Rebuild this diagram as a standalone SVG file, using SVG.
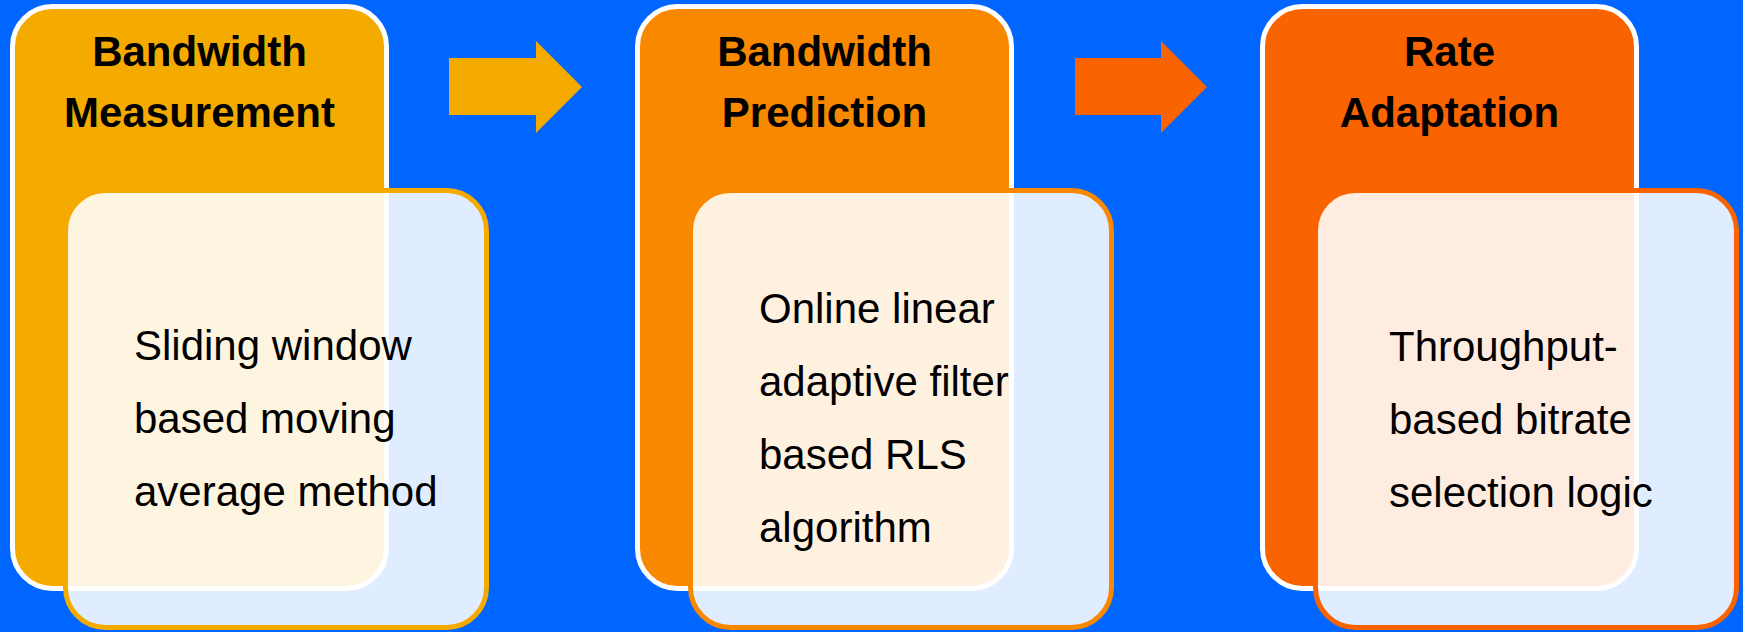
<svg xmlns="http://www.w3.org/2000/svg" width="1743" height="632" viewBox="0 0 1743 632">
<style>
.outer{stroke:#ffffff;stroke-width:5}
.inner{fill:#ffffff;fill-opacity:0.88;stroke-width:5}
.title{font-family:"Liberation Sans",Arial,sans-serif;font-weight:bold;font-size:42px;fill:#000;text-anchor:middle}
.body{font-family:"Liberation Sans",Arial,sans-serif;font-size:42px;fill:#000}
</style>
<rect x="0" y="0" width="1743" height="632" fill="#0066ff"/>
<g id="node-measurement">
<rect class="outer" x="12.5" y="6.5" width="374" height="582" rx="40" fill="#f5aa00"/>
<text class="title" x="199.5" y="66">Bandwidth</text>
<text class="title" x="199.5" y="127">Measurement</text>
<rect class="inner" x="65.5" y="190.5" width="421" height="437" rx="40" stroke="#f5aa00"/>
<text class="body" x="134" y="360">Sliding window</text>
<text class="body" x="134" y="433">based moving</text>
<text class="body" x="134" y="506">average method</text>
</g>
<g id="node-prediction">
<rect class="outer" x="637.5" y="6.5" width="374" height="582" rx="40" fill="#f88800"/>
<text class="title" x="824.5" y="66">Bandwidth</text>
<text class="title" x="824.5" y="127">Prediction</text>
<rect class="inner" x="690.5" y="190.5" width="421" height="437" rx="40" stroke="#f88800"/>
<text class="body" x="759" y="323">Online linear</text>
<text class="body" x="759" y="396">adaptive filter</text>
<text class="body" x="759" y="469">based RLS</text>
<text class="body" x="759" y="542">algorithm</text>
</g>
<g id="node-adaptation">
<rect class="outer" x="1262.5" y="6.5" width="374" height="582" rx="40" fill="#fa6400"/>
<text class="title" x="1449.5" y="66">Rate</text>
<text class="title" x="1449.5" y="127">Adaptation</text>
<rect class="inner" x="1315.5" y="190.5" width="421" height="437" rx="40" stroke="#fa6400"/>
<text class="body" x="1389" y="361">Throughput-</text>
<text class="body" x="1389" y="434">based bitrate</text>
<text class="body" x="1389" y="507">selection logic</text>
</g>
<g id="connectors">
<polygon points="449,58 536,58 536,41 582,87 536,133 536,115 449,115" fill="#f5aa00"/>
<polygon points="1075,58 1161,58 1161,41 1207,87 1161,133 1161,115 1075,115" fill="#fa6400"/>
</g>
</svg>
